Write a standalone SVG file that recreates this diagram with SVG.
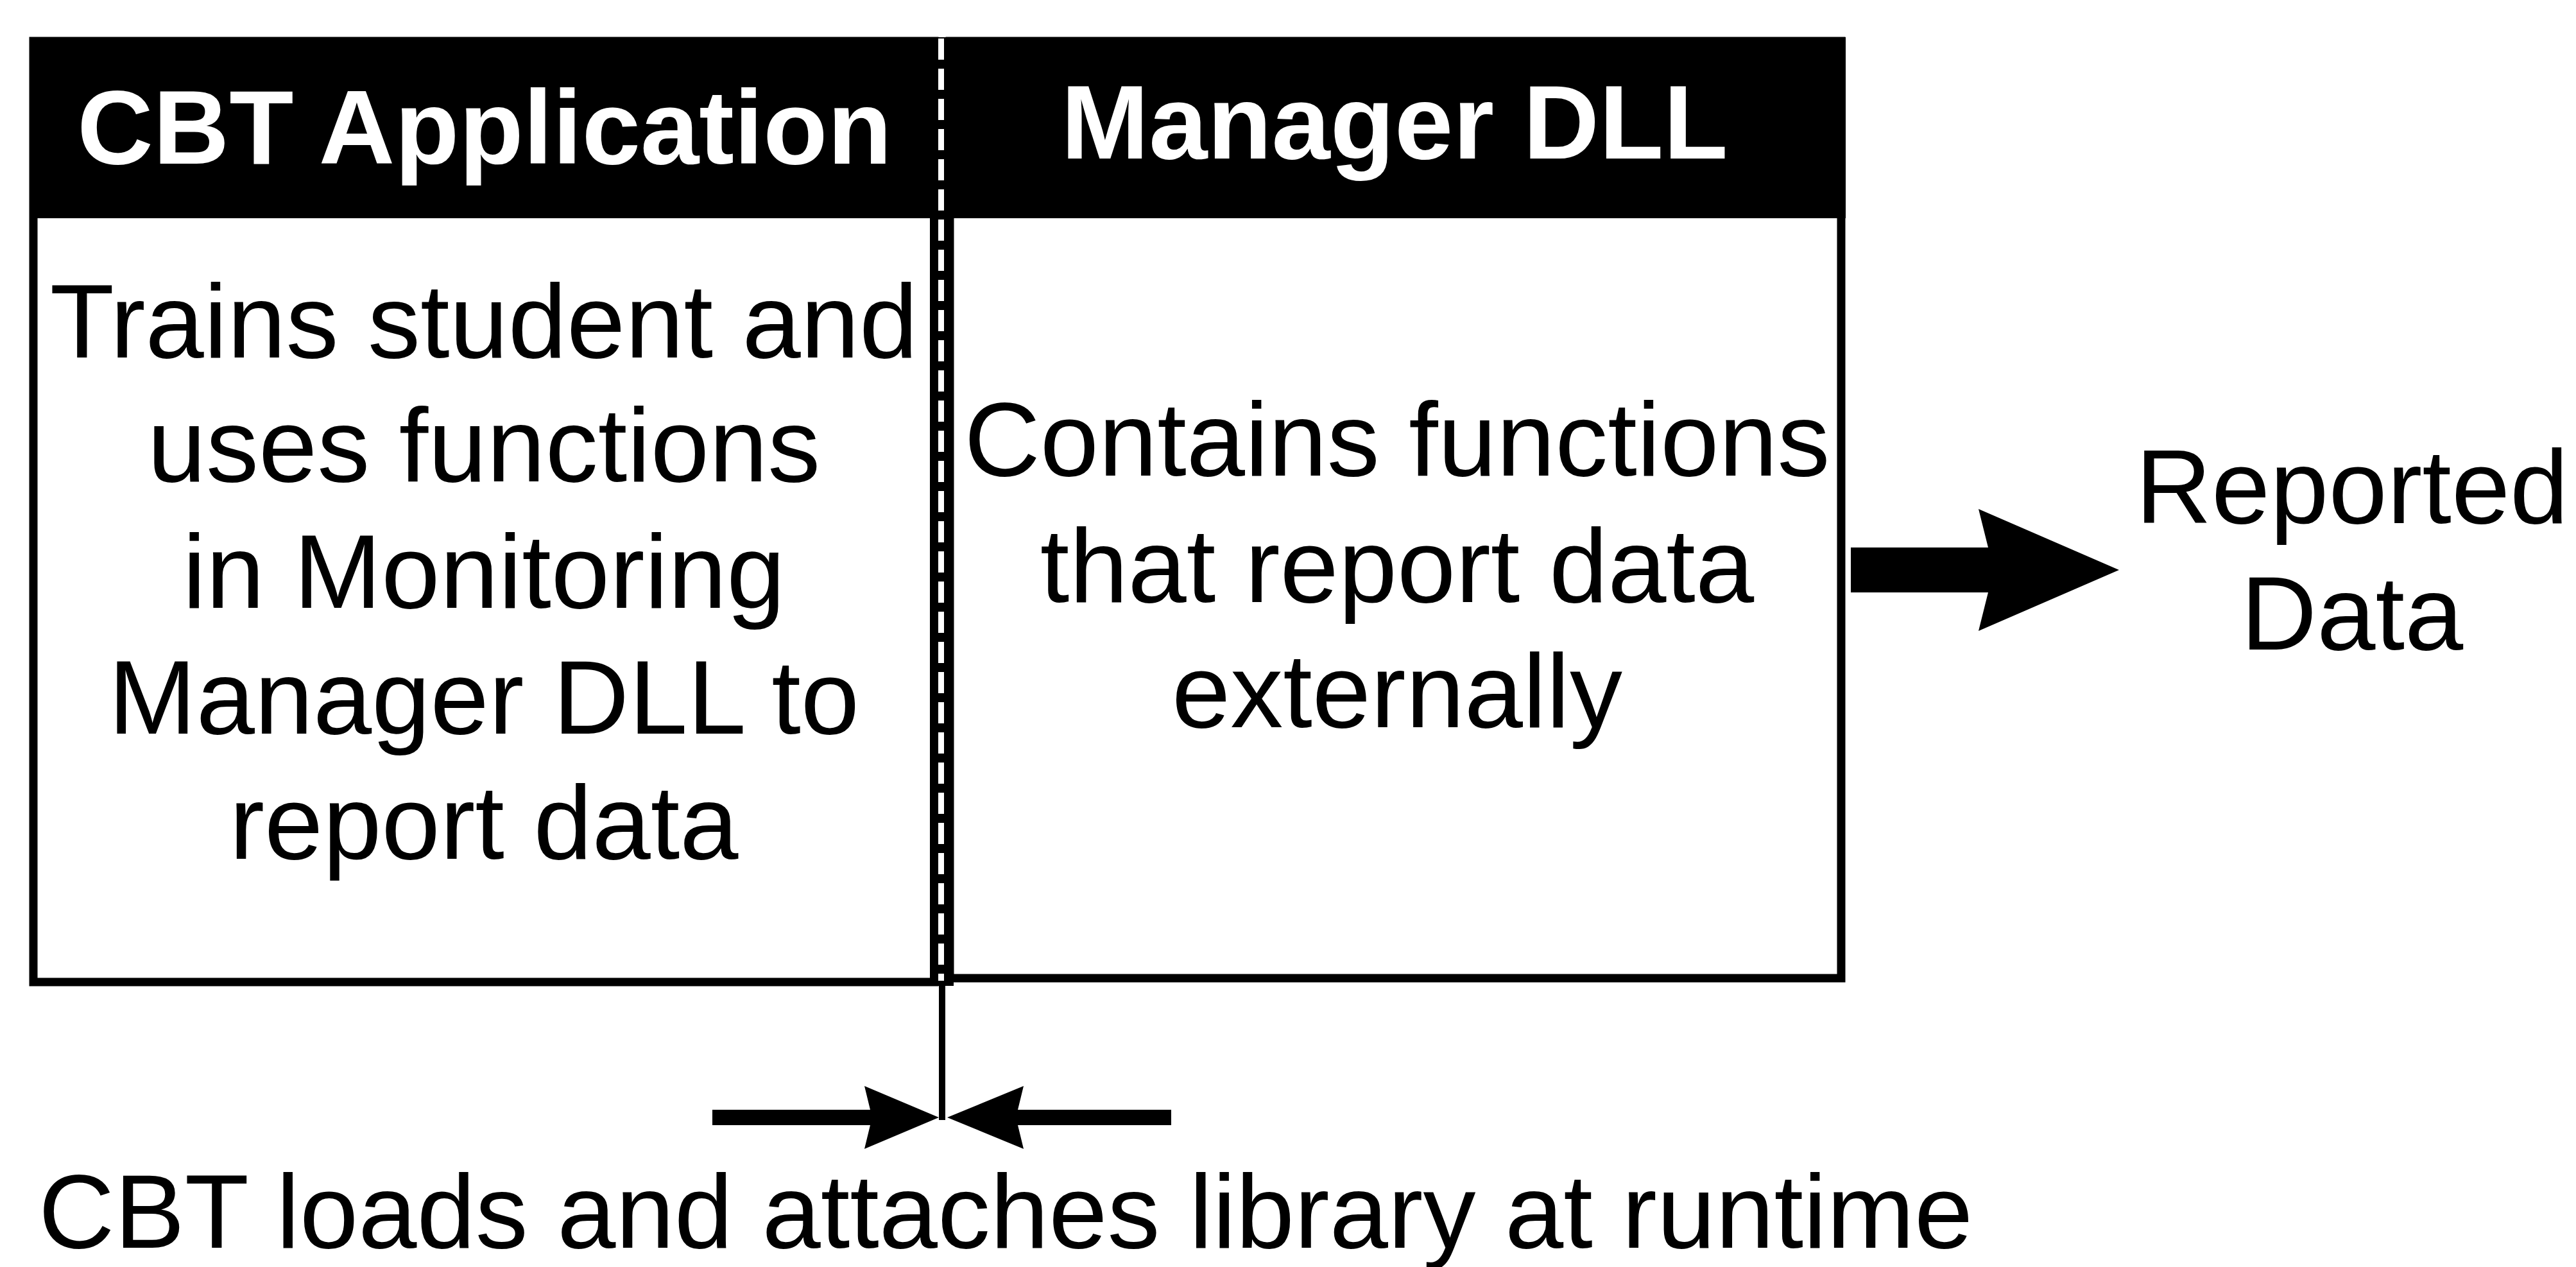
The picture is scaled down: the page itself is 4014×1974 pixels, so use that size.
<svg xmlns="http://www.w3.org/2000/svg" width="4014" height="1974" viewBox="0 0 4014 1974">
  <style>
    .box { fill: #fff; stroke: #000; stroke-width: 13; }
    .head { fill: #000; }
    .title { font-family: "Liberation Sans", Arial, sans-serif; font-weight: bold; font-size: 164px; fill: #fff; text-anchor: middle; }
    .body { font-family: "Liberation Sans", Arial, sans-serif; font-size: 164px; fill: #000; text-anchor: middle; }
    .caption { font-family: "Liberation Sans", Arial, sans-serif; font-size: 164px; fill: #000; }
    .arrow { fill: #000; }
  </style>
  <rect width="4014" height="1974" fill="#fff"/>

  <!-- CBT application block -->
  <g id="node-cbt">
    <rect class="box" x="52" y="64" width="1404" height="1466"/>
    <rect class="head" x="46" y="58" width="1410" height="282"/>
    <text class="title" x="755" y="255">CBT Application</text>
    <text class="body" x="754" y="557">Trains student and</text>
    <text class="body" x="754" y="750">uses functions</text>
    <text class="body" x="754" y="947">in Monitoring</text>
    <text class="body" x="754" y="1143">Manager DLL to</text>
    <text class="body" x="754" y="1338">report data</text>
  </g>

  <!-- Manager DLL block -->
  <g id="node-dll">
    <rect class="box" x="1480" y="64" width="1389" height="1460"/>
    <rect class="head" x="1474" y="58" width="1402" height="282"/>
    <text class="title" x="2173" y="247" font-size="162">Manager DLL</text>
    <text class="body" x="2177" y="741">Contains functions</text>
    <text class="body" x="2177" y="938">that report data</text>
    <text class="body" x="2177" y="1133">externally</text>
  </g>

  <!-- boundary between the application and the loaded library -->
  <g id="node-boundary">
    <rect x="1449" y="58" width="37" height="1478" fill="#000"/>
    <line x1="1466.5" y1="60" x2="1466.5" y2="1528" stroke="#fff" stroke-width="9" stroke-dasharray="33 14"/>
  </g>

  <!-- output label -->
  <g id="node-reported">
    <text class="body" x="3665" y="815" font-size="160">Reported</text>
    <text class="body" x="3665" y="1012" font-size="160">Data</text>
  </g>

  <!-- connectors -->
  <g id="connectors">
    <path class="arrow" d="M2884,853 L3098,853 L3083,793 L3302,888 L3083,983 L3098,923 L2884,923 Z"/>
    <rect x="1463" y="1530" width="10" height="215" fill="#000"/>
    <path class="arrow" d="M1110,1729 L1356,1729 L1347,1692 L1463,1741 L1347,1790 L1356,1753 L1110,1753 Z"/>
    <path class="arrow" d="M1825,1729 L1586,1729 L1595,1692 L1476,1741 L1595,1790 L1586,1753 L1825,1753 Z"/>
  </g>

  <g id="caption">
    <text class="caption" x="60" y="1944">CBT loads and attaches library at runtime</text>
  </g>
</svg>
